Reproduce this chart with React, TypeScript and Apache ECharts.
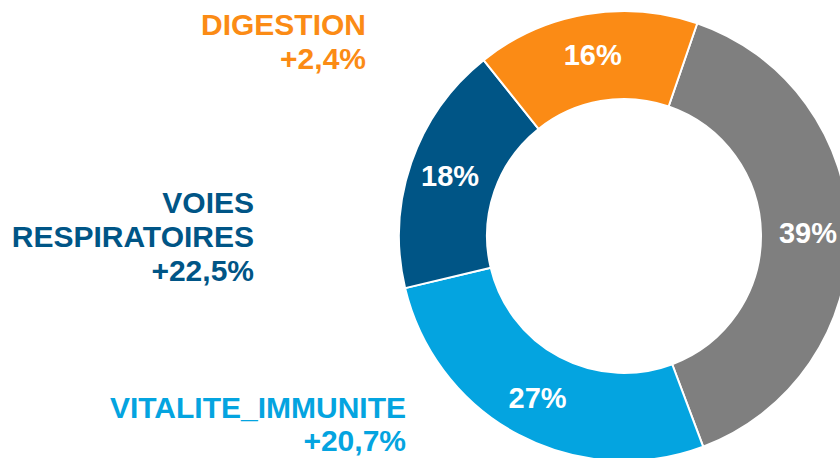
import React, { useEffect, useRef } from "react";
import * as echarts from "echarts";

const categories = ["AUTRES", "VITALITE_IMMUNITE", "VOIES RESPIRATOIRES", "DIGESTION"];
const shares = [39, 27, 18, 16];
const growth = ["", "+20,7%", "+22,5%", "+2,4%"];
const colors = ["#7F7F7F", "#04A4E0", "#005586", "#FB8B15"];

export default function App() {
  const ref = useRef<HTMLDivElement>(null);
  useEffect(() => {
    document.body.style.margin = "0";
    const chart = echarts.init(ref.current!, null, { renderer: "svg" });
    const font = 'bold 30px "Liberation Sans", Arial, sans-serif';
    const txt = (text: string, x: number, baseline: number, fill: string) => ({
      type: "text",
      style: {
        text,
        x,
        y: baseline - 10.5,
        align: "right",
        verticalAlign: "middle",
        font,
        fill,
      },
    });
    chart.setOption({
      animation: false,
      backgroundColor: "#ffffff",
      series: [
        {
          type: "pie",
          center: [624, 236],
          radius: [137, 225],
          startAngle: 71,
          clockwise: true,
          silent: true,
          data: categories.map((name, i) => ({
            name,
            value: shares[i],
            itemStyle: { color: colors[i] },
          })),
          itemStyle: { borderColor: "#ffffff", borderWidth: 2 },
          label: {
            show: true,
            position: "inside",
            formatter: (p: any) => `${p.value}%`,
            color: "#ffffff",
            fontSize: 29,
            fontWeight: "bold",
            fontFamily: '"Liberation Sans", Arial, sans-serif',
          },
          labelLine: { show: false },
        },
      ],
      graphic: [
        txt(categories[3], 366, 35, colors[3]),
        txt(growth[3], 366, 69, colors[3]),
        txt("VOIES", 254, 213, colors[2]),
        txt("RESPIRATOIRES", 254, 247, colors[2]),
        txt(growth[2], 254, 281, colors[2]),
        txt(categories[1], 406, 418, colors[1]),
        txt(growth[1], 406, 451, colors[1]),
      ],
    });
    return () => chart.dispose();
  }, []);
  return <div ref={ref} style={{ width: 840, height: 458 }} />;
}
